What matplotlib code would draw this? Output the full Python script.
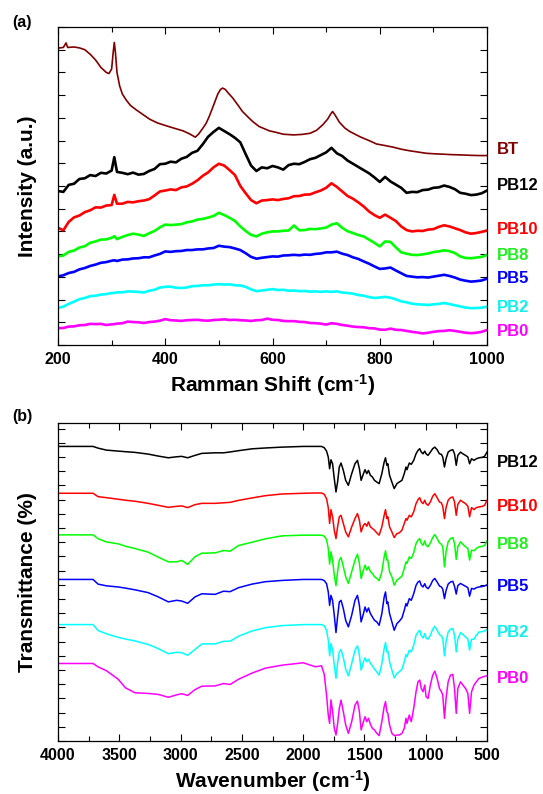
import matplotlib
matplotlib.use("Agg")
import matplotlib.pyplot as plt
from matplotlib.ticker import MultipleLocator, NullFormatter
import matplotlib.transforms as mtransforms

plt.rcParams['font.family'] = ['Liberation Sans', 'DejaVu Sans']
plt.rcParams['font.weight'] = 'bold'
plt.rcParams['mathtext.fontset'] = 'custom'
plt.rcParams['mathtext.rm'] = 'Liberation Sans'
plt.rcParams['mathtext.bf'] = 'Liberation Sans:bold'
plt.rcParams['mathtext.default'] = 'rm'

# ---------------- (a) Raman data ----------------
raman_x = [200, 210, 220, 230, 240, 250, 260, 270, 280, 290,
           300, 305, 310, 320, 330, 340, 350, 360, 370, 380,
           390, 400, 410, 420, 430, 440, 450, 460, 470, 480,
           490, 500, 510, 520, 530, 540, 550, 560, 570, 580,
           590, 600, 610, 620, 630, 640, 650, 660, 670, 680,
           690, 700, 710, 720, 730, 740, 750, 760, 770, 780,
           790, 800, 810, 820, 830, 840, 850, 860, 870, 880,
           890, 900, 910, 920, 930, 940, 950, 960, 970, 980,
           990, 1000]

bt_x = [200, 210, 215, 218, 230, 240, 250, 260, 270, 280, 290, 295, 300, 303, 305, 307, 310, 315, 320,
        327, 335, 346, 360, 371, 385, 402, 420, 433, 445, 456, 462, 470, 476, 482, 490, 498, 503, 507,
        512, 518, 526, 535, 544, 555, 563, 575, 594, 607, 620, 639, 655, 670, 682, 694, 703, 708, 712,
        716, 725, 735, 744, 763, 780, 794, 810, 825, 840, 856, 870, 887, 900, 918, 935, 949, 970, 986, 1000]
bt_y = [13.07, 13.10, 13.30, 13.10, 13.12, 13.08, 13.00, 12.80, 12.55, 12.22, 12.00, 11.95, 12.15, 12.90, 13.32, 12.90, 12.00, 11.40, 11.05,
        10.79, 10.55, 10.35, 10.12, 9.94, 9.78, 9.65, 9.52, 9.43, 9.30, 9.15, 9.28, 9.54, 9.75, 10.06, 10.55, 11.05, 11.25, 11.31,
        11.25, 11.08, 10.87, 10.58, 10.28, 10.02, 9.84, 9.62, 9.43, 9.36, 9.28, 9.25, 9.27, 9.32, 9.45, 9.70, 9.95, 10.15, 10.28,
        10.15, 9.80, 9.55, 9.40, 9.17, 9.00, 8.85, 8.78, 8.71, 8.62, 8.55, 8.50, 8.44, 8.42, 8.40, 8.38, 8.37, 8.35, 8.34, 8.34]

pb12_raman = [6.78, 6.74, 7.05, 7.10, 7.31, 7.34, 7.48, 7.44, 7.58, 7.55,
              7.68, 8.27, 7.62, 7.58, 7.52, 7.59, 7.50, 7.53, 7.66, 7.75,
              7.96, 7.98, 8.07, 8.04, 8.20, 8.28, 8.46, 8.55, 8.84, 9.17,
              9.38, 9.56, 9.42, 9.28, 9.12, 8.92, 8.40, 7.90, 7.66, 7.82,
              7.78, 7.88, 7.82, 7.72, 7.92, 7.98, 7.96, 8.06, 8.18, 8.24,
              8.36, 8.48, 8.68, 8.44, 8.32, 8.12, 7.98, 7.84, 7.70, 7.56,
              7.38, 7.18, 7.40, 7.20, 7.06, 6.92, 6.70, 6.74, 6.73, 6.82,
              6.84, 6.92, 6.94, 7.02, 6.96, 6.86, 6.70, 6.66, 6.60, 6.62,
              6.68, 6.80]
pb10_raman = [5.16, 5.05, 5.42, 5.62, 5.70, 5.85, 5.93, 6.06, 6.05, 6.14,
              6.16, 6.61, 6.22, 6.22, 6.30, 6.28, 6.33, 6.36, 6.42, 6.58,
              6.76, 6.80, 6.85, 6.82, 6.94, 6.98, 7.10, 7.25, 7.45, 7.60,
              7.82, 7.98, 7.90, 7.70, 7.48, 7.00, 6.68, 6.38, 6.24, 6.36,
              6.38, 6.41, 6.38, 6.43, 6.46, 6.55, 6.56, 6.62, 6.63, 6.72,
              6.80, 6.92, 7.12, 6.96, 6.76, 6.56, 6.44, 6.28, 6.10, 5.88,
              5.72, 5.60, 5.74, 5.60, 5.46, 5.22, 5.06, 5.00, 5.03, 5.02,
              5.08, 5.10, 5.20, 5.27, 5.22, 5.14, 5.06, 4.96, 4.90, 4.93,
              4.98, 5.04]
pb8_raman = [3.90, 3.94, 4.10, 4.16, 4.29, 4.35, 4.50, 4.56, 4.64, 4.65,
             4.72, 4.79, 4.66, 4.76, 4.84, 4.90, 4.86, 4.80, 4.92, 5.02,
             5.18, 5.30, 5.28, 5.30, 5.32, 5.40, 5.44, 5.52, 5.55, 5.61,
             5.68, 5.82, 5.72, 5.60, 5.46, 5.22, 5.02, 4.85, 4.78, 4.90,
             4.96, 5.00, 5.00, 5.03, 5.04, 5.26, 5.05, 5.06, 5.11, 5.10,
             5.13, 5.17, 5.30, 5.36, 5.16, 5.01, 4.93, 4.84, 4.78, 4.64,
             4.50, 4.34, 4.56, 4.54, 4.30, 4.08, 4.02, 3.97, 3.96, 3.99,
             4.03, 4.09, 4.12, 4.17, 4.13, 4.05, 3.90, 3.83, 3.82, 3.85,
             3.88, 3.96]
pb5_raman = [3.02, 3.07, 3.17, 3.22, 3.33, 3.39, 3.48, 3.54, 3.62, 3.65,
             3.71, 3.73, 3.70, 3.76, 3.77, 3.81, 3.82, 3.86, 3.86, 3.94,
             4.01, 4.12, 4.10, 4.13, 4.14, 4.18, 4.18, 4.21, 4.21, 4.25,
             4.27, 4.37, 4.33, 4.31, 4.25, 4.18, 4.04, 3.88, 3.80, 3.84,
             3.87, 3.90, 3.89, 3.94, 3.95, 3.97, 3.95, 3.98, 3.97, 4.01,
             4.03, 4.08, 4.08, 4.11, 4.02, 3.96, 3.86, 3.79, 3.68, 3.58,
             3.46, 3.35, 3.37, 3.41, 3.28, 3.16, 3.04, 3.01, 2.98, 2.99,
             2.97, 3.01, 3.05, 3.09, 3.04, 2.97, 2.88, 2.83, 2.79, 2.81,
             2.84, 2.92]
pb2_raman = [1.63, 1.69, 1.81, 1.91, 2.02, 2.07, 2.15, 2.17, 2.22, 2.24,
             2.29, 2.29, 2.32, 2.32, 2.36, 2.35, 2.34, 2.31, 2.39, 2.43,
             2.53, 2.56, 2.57, 2.52, 2.51, 2.53, 2.59, 2.60, 2.63, 2.63,
             2.66, 2.68, 2.66, 2.67, 2.63, 2.62, 2.56, 2.45, 2.37, 2.40,
             2.43, 2.46, 2.42, 2.43, 2.39, 2.40, 2.37, 2.38, 2.35, 2.36,
             2.34, 2.36, 2.34, 2.36, 2.31, 2.29, 2.26, 2.20, 2.17, 2.11,
             2.07, 2.09, 2.12, 2.08, 2.01, 1.92, 1.88, 1.82, 1.79, 1.78,
             1.76, 1.79, 1.81, 1.85, 1.80, 1.75, 1.70, 1.65, 1.62, 1.63,
             1.64, 1.69]
pb0_raman = [0.74, 0.75, 0.81, 0.82, 0.87, 0.88, 0.93, 0.92, 0.93, 0.88,
             0.91, 0.92, 0.94, 0.96, 1.03, 1.01, 1.00, 0.97, 1.01, 1.03,
             1.07, 1.14, 1.09, 1.08, 1.06, 1.09, 1.10, 1.11, 1.08, 1.07,
             1.10, 1.11, 1.13, 1.10, 1.11, 1.09, 1.08, 1.06, 1.09, 1.10,
             1.16, 1.11, 1.10, 1.06, 1.05, 1.05, 1.02, 1.01, 0.97, 0.96,
             0.94, 0.90, 0.96, 0.93, 0.88, 0.85, 0.81, 0.79, 0.78, 0.74,
             0.73, 0.68, 0.67, 0.72, 0.67, 0.66, 0.62, 0.58, 0.55, 0.51,
             0.54, 0.58, 0.61, 0.62, 0.65, 0.62, 0.58, 0.54, 0.52, 0.54,
             0.58, 0.66]

raman_names = ['BT', 'PB12', 'PB10', 'PB8', 'PB5', 'PB2', 'PB0']
raman_label_y = [8.62, 7.02, 5.10, 3.96, 2.92, 1.65, 0.60]

# ---------------- (b) FTIR data ----------------
wn = [4000, 3714, 3673, 3605, 3509, 3450, 3373, 3264, 3182, 3100,
      3032, 2991, 2942, 2882, 2827, 2718, 2650, 2596, 2527, 2418,
      2309, 2173, 2000, 1900, 1850, 1828, 1809, 1795, 1784, 1773,
      1760, 1746, 1732, 1719, 1705, 1691, 1672, 1653, 1631, 1604,
      1577, 1557, 1541, 1527, 1508, 1495, 1481, 1467, 1451, 1435,
      1418, 1399, 1380, 1358, 1339, 1328, 1317, 1309, 1295, 1276,
      1257, 1235, 1216, 1194, 1175, 1161, 1153, 1134, 1118, 1098,
      1079, 1063, 1049, 1036, 1022, 1008, 997, 981, 962, 943,
      926, 907, 888, 872, 861, 847, 834, 817, 798, 779,
      765, 751, 738, 716, 697, 675, 656, 642, 626, 606,
      587, 565, 540, 520, 500]

pb12_ftir = [20.75, 20.75, 20.63, 20.49, 20.42, 20.38, 20.33, 20.21, 20.07, 19.95,
             20.02, 20.05, 19.95, 20.12, 20.26, 20.30, 20.30, 20.36, 20.45, 20.58,
             20.64, 20.70, 20.75, 20.75, 20.75, 20.66, 20.42, 20.00, 19.18, 19.81,
             19.53, 18.48, 17.54, 18.24, 19.30, 19.58, 19.06, 18.36, 18.01, 18.83,
             19.53, 19.77, 19.18, 18.36, 18.83, 19.11, 18.83, 19.06, 18.71, 18.60,
             18.36, 18.24, 18.13, 18.83, 19.65, 19.95, 19.42, 19.53, 18.71, 18.24,
             17.78, 18.13, 18.24, 18.36, 18.83, 19.30, 19.11, 19.58, 19.49, 19.77,
             20.23, 20.47, 20.59, 20.35, 20.23, 20.42, 20.23, 20.12, 20.35, 20.59,
             20.70, 20.52, 20.23, 20.19, 20.00, 19.30, 19.88, 20.35, 20.47, 20.52,
             20.23, 19.42, 20.12, 20.35, 20.23, 20.12, 20.00, 19.53, 19.88, 19.77,
             19.88, 19.95, 19.98, 20.05, 20.35]
pb10_ftir = [17.45, 17.45, 17.21, 17.14, 17.03, 16.96, 16.89, 16.74, 16.60, 16.46,
             16.53, 16.56, 16.44, 16.65, 16.74, 16.74, 16.78, 16.81, 16.95, 17.12,
             17.28, 17.40, 17.45, 17.47, 17.47, 17.38, 17.07, 16.44, 15.32, 16.30,
             15.79, 14.85, 14.26, 15.08, 15.79, 15.90, 15.32, 14.73, 14.38, 15.08,
             15.67, 16.02, 15.55, 14.73, 15.20, 15.32, 15.13, 15.43, 15.08, 14.97,
             14.85, 14.66, 14.50, 15.08, 15.90, 16.30, 15.67, 15.79, 15.08, 14.73,
             14.33, 14.61, 14.66, 14.85, 15.32, 15.67, 15.55, 15.90, 15.79, 16.14,
             16.72, 17.00, 17.14, 16.84, 16.72, 16.96, 16.72, 16.60, 16.84, 17.24,
             17.42, 17.14, 16.84, 16.77, 16.53, 15.67, 16.44, 16.96, 17.14, 17.19,
             16.84, 15.90, 16.67, 16.96, 16.84, 16.72, 16.53, 15.79, 16.44, 16.30,
             16.44, 16.49, 16.52, 16.60, 16.95]
pb8_ftir = [14.52, 14.52, 14.25, 14.02, 13.89, 13.72, 13.56, 13.30, 12.95, 12.62,
            12.62, 12.72, 12.44, 12.98, 13.23, 13.25, 13.42, 13.37, 13.77, 14.00,
            14.24, 14.45, 14.50, 14.50, 14.50, 14.43, 14.19, 13.56, 12.46, 13.33,
            12.74, 11.69, 10.94, 11.92, 12.74, 12.93, 12.27, 11.57, 11.10, 11.92,
            12.74, 13.16, 12.51, 11.45, 12.04, 12.39, 12.04, 12.27, 11.92, 11.80,
            11.57, 11.45, 11.29, 11.92, 12.97, 13.40, 12.74, 12.74, 11.92, 11.57,
            10.98, 11.34, 11.45, 11.62, 12.16, 12.62, 12.51, 12.97, 12.86, 13.26,
            13.91, 14.15, 14.26, 13.91, 13.79, 14.10, 13.79, 13.68, 13.96, 14.33,
            14.54, 14.26, 13.96, 13.86, 13.68, 12.27, 13.33, 14.03, 14.26, 14.33,
            13.91, 12.79, 13.68, 14.03, 13.86, 13.68, 13.56, 12.74, 13.44, 13.40,
            13.56, 13.68, 13.70, 13.78, 14.10]
pb5_ftir = [11.38, 11.38, 11.05, 10.93, 10.85, 10.77, 10.65, 10.45, 10.15, 9.80,
            9.91, 9.86, 9.70, 10.15, 10.37, 10.33, 10.55, 10.52, 10.80, 11.05,
            11.22, 11.31, 11.38, 11.38, 11.38, 11.30, 11.08, 10.50, 9.56, 10.26,
            9.91, 8.86, 7.64, 8.74, 9.79, 9.91, 9.32, 8.50, 8.04, 8.86,
            9.91, 10.26, 9.56, 8.39, 8.97, 9.44, 9.09, 9.37, 8.97, 8.74,
            8.50, 8.39, 8.15, 8.97, 10.14, 10.50, 9.68, 9.79, 8.97, 8.39,
            7.80, 8.27, 8.43, 8.67, 9.21, 9.68, 9.51, 10.03, 9.91, 10.38,
            10.96, 11.20, 11.27, 10.96, 10.85, 11.08, 10.85, 10.73, 10.96, 11.31,
            11.45, 11.20, 10.92, 10.85, 10.70, 10.03, 10.60, 11.05, 11.20, 11.25,
            10.90, 10.35, 10.95, 11.10, 11.00, 10.90, 10.80, 10.20, 10.75, 10.70,
            10.80, 10.85, 10.88, 10.92, 11.00]
pb2_ftir = [8.20, 8.20, 7.78, 7.55, 7.30, 7.18, 7.05, 6.80, 6.51, 6.15,
            6.25, 6.22, 6.04, 6.45, 6.84, 6.84, 7.02, 7.03, 7.38, 7.75,
            7.98, 8.13, 8.20, 8.20, 8.20, 8.11, 7.80, 7.10, 6.00, 6.87,
            6.40, 5.34, 4.41, 5.46, 6.28, 6.44, 5.86, 5.06, 4.59, 5.46,
            6.40, 6.70, 6.05, 4.99, 5.58, 5.86, 5.58, 5.76, 5.46, 5.30,
            5.06, 4.87, 4.64, 5.46, 6.51, 6.94, 6.28, 6.33, 5.58, 4.99,
            4.45, 4.76, 4.87, 5.06, 5.58, 6.09, 5.93, 6.40, 6.28, 6.75,
            7.45, 7.68, 7.80, 7.40, 7.26, 7.57, 7.26, 7.17, 7.45, 7.87,
            8.08, 7.80, 7.50, 7.40, 7.22, 6.00, 6.98, 7.68, 7.87, 7.92,
            7.45, 6.28, 7.17, 7.64, 7.50, 7.33, 7.17, 6.40, 7.17, 7.17,
            7.45, 7.68, 7.70, 7.75, 7.85]
pb0_ftir = [5.46, 5.46, 5.22, 4.95, 4.35, 3.75, 3.40, 3.35, 3.28, 3.08,
            3.25, 3.33, 3.21, 3.62, 3.86, 3.88, 4.05, 3.98, 4.35, 4.78,
            5.13, 5.34, 5.51, 5.23, 5.30, 4.70, 3.24, 1.83, 1.24, 2.90,
            2.10, 0.90, 0.42, 1.20, 2.30, 2.88, 2.06, 1.13, 0.54, 1.36,
            2.53, 2.81, 2.06, 0.78, 1.36, 1.71, 1.36, 1.60, 1.17, 0.89,
            0.78, 0.54, 0.38, 1.36, 2.42, 2.77, 2.06, 1.95, 1.13, 0.54,
            0.38, 0.42, 0.42, 0.54, 0.89, 1.60, 1.24, 1.83, 1.36, 2.30,
            3.47, 4.17, 4.29, 3.70, 3.47, 3.94, 3.12, 3.00, 3.94, 4.64,
            4.92, 4.41, 3.70, 3.47, 3.24, 1.60, 3.00, 4.17, 4.64, 4.69,
            3.70, 1.95, 3.70, 4.17, 3.94, 3.70, 3.35, 1.95, 3.47, 3.94,
            4.17, 4.41, 4.50, 4.55, 4.60]

ftir_names = ['PB12', 'PB10', 'PB8', 'PB5', 'PB2', 'PB0']
ftir_label_y = [19.6, 16.5, 13.85, 10.85, 7.65, 4.4]

colors = {'BT': '#800000', 'PB12': '#000000', 'PB10': '#FF0000', 'PB8': '#00FF00',
          'PB5': '#0000FF', 'PB2': '#00FFFF', 'PB0': '#FF00FF'}
text_colors = {'BT': '#800000', 'PB12': '#000000', 'PB10': '#FF0000', 'PB8': '#22EE22',
               'PB5': '#0000FF', 'PB2': '#11EEEE', 'PB0': '#FF00FF'}

W, H = 543, 794
fig = plt.figure(figsize=(W / 100, H / 100), dpi=100)

def px_axes(l, t, r, b):
    return fig.add_axes([l / W, 1 - b / H, (r - l) / W, (b - t) / H])

ax1 = px_axes(58, 27, 487, 345)
ax2 = px_axes(58, 423, 487, 741)

def style(ax):
    for s in ax.spines.values():
        s.set_linewidth(0.9)
    ax.tick_params(which='both', direction='in', top=True, right=True, width=0.8)
    ax.tick_params(which='major', length=5, labelsize=11.5, pad=5)
    ax.tick_params(which='minor', length=3.5)
    ax.yaxis.set_major_formatter(NullFormatter())
    ax.yaxis.set_minor_formatter(NullFormatter())
    for lab in ax.get_xticklabels():
        lab.set_fontweight('bold')

# ---- panel a
ax1.plot(bt_x, bt_y, color=colors['BT'], lw=1.2)
for name, ys in zip(raman_names[1:], [pb12_raman, pb10_raman, pb8_raman, pb5_raman, pb2_raman, pb0_raman]):
    ax1.plot(raman_x, ys, color=colors[name], lw=1.9)
ax1.set_xlim(200, 1000)
ax1.set_ylim(0, 14)
ax1.xaxis.set_major_locator(MultipleLocator(200))
ax1.xaxis.set_minor_locator(MultipleLocator(100))
ax1.yaxis.set_major_locator(MultipleLocator(1))
style(ax1)
ax1.set_xlabel(r'Ramman Shift $\mathrm{(}$cm$^{\text{-1}}\mathrm{)}$', fontsize=15, fontweight='bold', labelpad=4)
ax1.set_ylabel('Intensity (a.u.)', fontsize=15, fontweight='bold')
ax1.yaxis.set_label_coords(-0.05, 0.5)
tr1 = mtransforms.blended_transform_factory(ax1.transAxes, ax1.transData)
for name, yl in zip(raman_names, raman_label_y):
    ax1.text(1.023, yl, name, transform=tr1, ha='left', va='center',
             fontsize=12, fontweight='bold', color=text_colors[name])

# ---- panel b
for name, ys in zip(ftir_names, [pb12_ftir, pb10_ftir, pb8_ftir, pb5_ftir, pb2_ftir, pb0_ftir]):
    ax2.plot(wn, ys, color=colors[name], lw=1.1)
ax2.set_xlim(4000, 500)
ax2.set_ylim(0, 22.4)
ax2.xaxis.set_major_locator(MultipleLocator(500))
ax2.xaxis.set_minor_locator(MultipleLocator(250))
ax2.yaxis.set_major_locator(MultipleLocator(1))
style(ax2)
ax2.set_xlabel(r'Wavenumber $\mathrm{(}$cm$^{\text{-1}}\mathrm{)}$', fontsize=15, fontweight='bold', labelpad=4)
ax2.set_ylabel('Transmittance (%)', fontsize=15, fontweight='bold')
ax2.yaxis.set_label_coords(-0.05, 0.5)
tr2 = mtransforms.blended_transform_factory(ax2.transAxes, ax2.transData)
for name, yl in zip(ftir_names, ftir_label_y):
    ax2.text(1.023, yl, name, transform=tr2, ha='left', va='center',
             fontsize=12, fontweight='bold', color=text_colors[name])

fig.text(22 / W, 1 - 22 / H, '(a)', ha='center', va='center', fontsize=11.5, fontweight='bold')
fig.text(22 / W, 1 - 417 / H, '(b)', ha='center', va='center', fontsize=11.5, fontweight='bold')

fig.savefig('out.png', dpi=100)
